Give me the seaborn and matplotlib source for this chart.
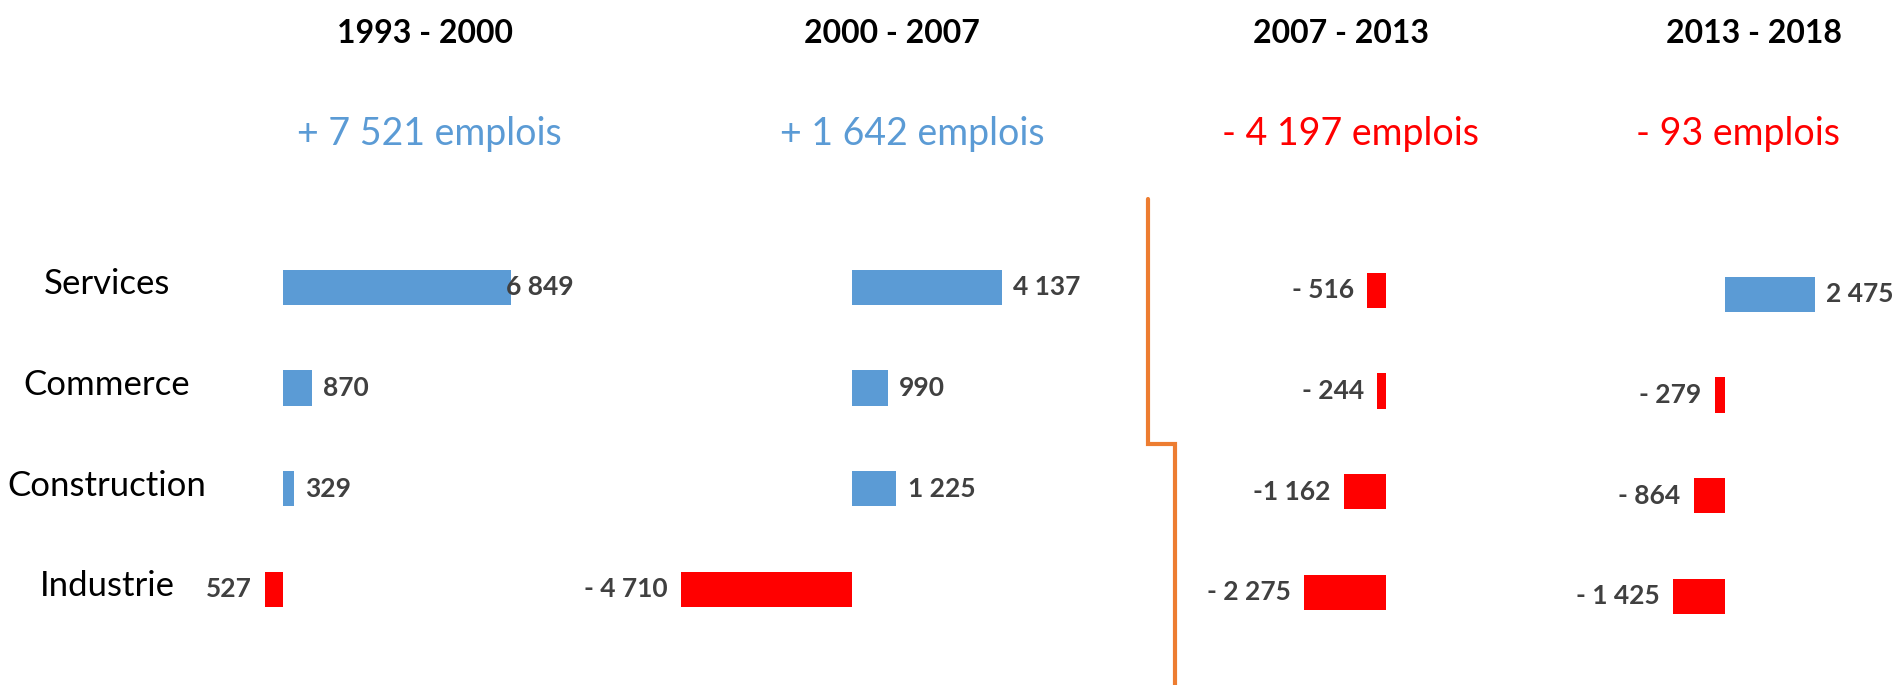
import matplotlib
matplotlib.use("Agg")
import matplotlib.pyplot as plt
import matplotlib.transforms as mtransforms
from matplotlib.lines import Line2D
import seaborn as sns

# Data
sectors = ["Services", "Commerce", "Construction", "Industrie"]
periods = ["1993 - 2000", "2000 - 2007", "2007 - 2013", "2013 - 2018"]
totals = ["+ 7 521 emplois", "+ 1 642 emplois", "- 4 197 emplois", "- 93 emplois"]
total_signs = [1, 1, -1, -1]

v_1993_2000 = [6849, 870, 329, -527]
v_2000_2007 = [4137, 990, 1225, -4710]
v_2007_2013 = [-516, -244, -1162, -2275]
v_2013_2018 = [2475, -279, -864, -1425]

lab_1993_2000 = ["6 849", "870", "329", "527"]
lab_2000_2007 = ["4 137", "990", "1 225", "- 4 710"]
lab_2007_2013 = ["- 516", "- 244", "-1 162", "- 2 275"]
lab_2013_2018 = ["2 475", "- 279", "- 864", "- 1 425"]

values = [v_1993_2000, v_2000_2007, v_2007_2013, v_2013_2018]
labels = [lab_1993_2000, lab_2000_2007, lab_2007_2013, lab_2013_2018]

BLUE = "#5B9BD5"
RED = "#FF0000"
ORANGE = "#ED7D31"

sns.set_theme(style="white")
plt.rcParams["font.family"] = ["Lato", "DejaVu Sans"]

W, H = 1896, 685
fig = plt.figure(figsize=(W / 100, H / 100), dpi=100)


def fx(px):
    return px / W


def fy(py):
    return 1 - py / H


# layout of each panel in pixels: zero line, px per unit, left, right, top of first row
# label_max: right edge (px) that data labels may not pass (plot area edge)
panels = [
    dict(zero=283, scale=228 / 6849, left=150, right=620, top=237, label_max=574),
    dict(zero=852, scale=150 / 4137, left=640, right=1120, top=237, label_max=W),
    dict(zero=1386, scale=0.0361, left=1180, right=1560, top=240, label_max=W),
    dict(zero=1725, scale=0.0363, left=1570, right=1890, top=244, label_max=W),
]
pitch = 100.7

axes = []
pos_labels = []
for p, vals, labs in zip(panels, values, labels):
    bottom = p["top"] + 4 * pitch
    ax = fig.add_axes([fx(p["left"]), fy(bottom), fx(p["right"] - p["left"]), (4 * pitch) / H])
    colors = [BLUE if v >= 0 else RED for v in vals]
    sns.barplot(x=vals, y=sectors, hue=sectors, palette=colors, orient="h",
                width=0.35, saturation=1, legend=False, ax=ax, edgecolor="none")
    ax.set_xlim((p["left"] - p["zero"]) / p["scale"], (p["right"] - p["zero"]) / p["scale"])
    ax.set_ylim(3.5, -0.5)
    ax.axis("off")
    for i, (v, lab) in enumerate(zip(vals, labs)):
        if v >= 0:
            t = ax.annotate(lab, (v, i), xytext=(8, 0), textcoords="offset points",
                            ha="left", va="center", fontsize=19, fontweight="bold",
                            color="#404040", annotation_clip=False)
            pos_labels.append((t, p["label_max"]))
        else:
            ax.annotate(lab, (v, i), xytext=(-9.5, 0), textcoords="offset points",
                        ha="right", va="center", fontsize=19, fontweight="bold",
                        color="#404040", annotation_clip=False)
    axes.append(ax)

# keep data labels inside the plot area, as the spreadsheet does
fig.canvas.draw()
renderer = fig.canvas.get_renderer()
for t, lim in pos_labels:
    bb = t.get_window_extent(renderer)
    if bb.x1 > lim:
        dx_pt = (bb.x1 - lim) * 72 / fig.dpi
        t.xyann = (t.xyann[0] - dx_pt, t.xyann[1])

# sector names on the left
trans = mtransforms.blended_transform_factory(fig.transFigure, axes[0].transData)
for i, name in enumerate(sectors):
    axes[0].text(fx(107), i - 0.03, name, transform=trans, ha="center", va="center",
                 fontsize=25, color="black")

# period titles and totals
title_x = [425, 892, 1341, 1754]
total_x = [429, 912, 1350, 1738]
for tx, sx, per, tot, sg in zip(title_x, total_x, periods, totals, total_signs):
    fig.text(fx(tx), fy(43), per, ha="center", va="baseline", fontsize=23,
             fontweight="bold", color="black")
    fig.text(fx(sx), fy(145), tot, ha="center", va="baseline", fontsize=27,
             color=BLUE if sg > 0 else RED)

# orange separator
xs = [fx(1148), fx(1148), fx(1175), fx(1175)]
ys = [fy(199), fy(444), fy(444), fy(685)]
fig.add_artist(Line2D(xs, ys, color=ORANGE, lw=3, transform=fig.transFigure,
                      solid_joinstyle="miter"))

fig.savefig("out.png", dpi=100, facecolor="white")
